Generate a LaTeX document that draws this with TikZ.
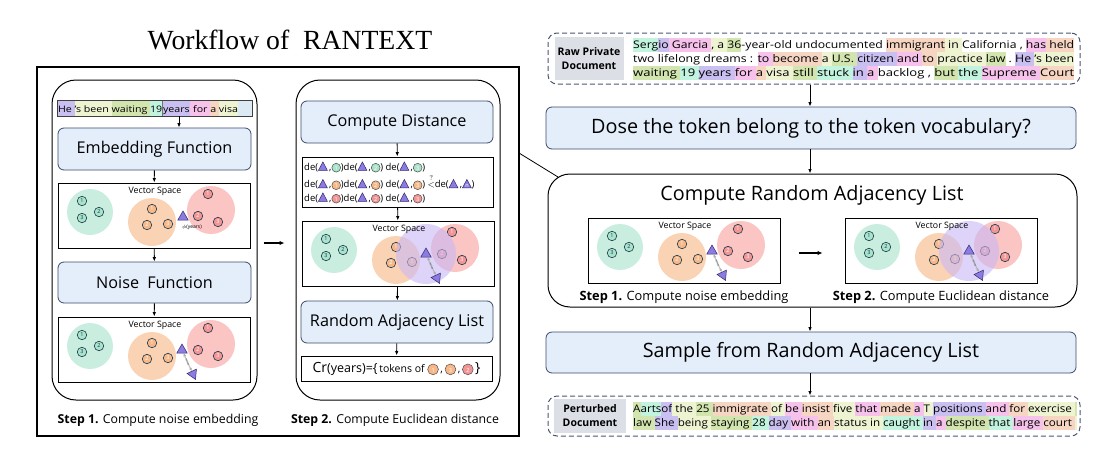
\documentclass[tikz,border=0pt]{standalone}
\usepackage{fontspec}
\setmainfont{Open Sans}
\newfontfamily\titlefont{Liberation Serif}
\usetikzlibrary{shapes.geometric,arrows.meta,calc}
\definecolor{hlpur}{HTML}{CABFF1}
\definecolor{hlmint}{HTML}{C2F3DF}
\definecolor{hlpink}{HTML}{F6C1EA}
\definecolor{hlpeach}{HTML}{F6D5C2}
\definecolor{hlyel}{HTML}{EEF4D2}
\definecolor{hlgrn}{HTML}{D3E5AE}
\definecolor{hlblue}{HTML}{DCEAF6}
\definecolor{boxF}{HTML}{E4EEFA}
\definecolor{boxD}{HTML}{3A4A6B}
\definecolor{labF}{HTML}{DCDFE6}
\definecolor{dashD}{HTML}{4A5670}
\definecolor{bgG}{HTML}{C9EEDF}
\definecolor{bgO}{HTML}{FAD3B5}
\definecolor{bgR}{HTML}{FBC5C4}
\definecolor{bgP}{HTML}{C8B8F5}
\definecolor{gS}{HTML}{A8E3CB}
\definecolor{oS}{HTML}{F6B889}
\definecolor{rS}{HTML}{F29595}
\definecolor{scD}{HTML}{1E3A4A}
\definecolor{triF}{HTML}{8C7BE0}
\definecolor{triD}{HTML}{33286E}
\def\hlstrut{\rule[-3.2pt]{0pt}{14pt}}
\newcommand\hl[2]{{\setlength\fboxsep{0pt}\colorbox{#1}{\hlstrut#2}}}
\newcommand\cn[3][4.4]{\mbox{\tikz[baseline=-2.7pt]\filldraw[fill=#2,draw=black!70,line width=0.5pt] (0pt,0pt) circle (#1pt);\hspace*{\dimexpr -#1pt*2 -0.5pt\relax}\makebox[\dimexpr #1pt*2 +0.5pt\relax]{\textcolor{white}{\fontsize{5.5}{5.5}\selectfont #3}}}}
\newcommand\tr{\tikz[baseline=0pt]\filldraw[fill=triF,draw=triD,line width=0.5pt] (0pt,0pt)--(9pt,0pt)--(4.5pt,8.5pt)--cycle;}
\newcommand\trn{\mbox{\tr\hspace*{-9pt}\makebox[9pt]{\raisebox{0.3pt}{\textcolor{white}{\fontsize{5.5}{5.5}\selectfont n}}}}}
\newcommand\de[1]{de(\tr\,,#1)}
\newcommand\VSbase[1]{%
  \node[vsrect] (#1) at (96,32.5) {};
  \fill[bgG] (32,29) circle (23pt);
  \fill[bgO] (94,39) circle (24pt);
  \fill[bgR] (153,27) circle (24pt);
  \node[sc, fill=gS, text=scD] (#1-g1) at (24,18) {1};
  \node[sc, fill=gS, text=scD] (#1-g2) at (41,29) {2};
  \node[sc, fill=gS, text=scD] (#1-g3) at (24,35) {3};
  \node[sc, fill=oS] (#1-o1) at (94,26) {1};
  \node[sc, fill=oS] (#1-o2) at (89,42) {2};
  \node[sc, fill=oS] (#1-o3) at (110,41) {3};
  \node[sc, fill=rS] (#1-r1) at (150,11) {1};
  \node[sc, fill=rS] (#1-r2) at (140,33) {2};
  \node[sc, fill=rS] (#1-r3) at (160,39) {3};
}
\newcommand\VSnoise[1]{%
  \node[tri] (#1-p1) at (124,33) {};
  \node[tri, shape border rotate=-35] (#1-p2) at (135,57) {};
  \draw[noisearr] (#1-p1) -- (#1-p2) node[midway, sloped, font=\fontsize{2.8}{3}\selectfont, text=black!70] (#1-nl) {noise};
}
\newcommand\VStitle[1]{\node[vstitle] (#1-t) at (97,8) {Vector Space};}
\tikzset{
  fbox/.style={draw=boxD, fill=boxF, rounded corners=6pt, line width=0.8pt, inner sep=0pt},
  rbox/.style={draw=black, rounded corners=24pt, line width=1pt, inner sep=0pt},
  vsrect/.style={draw=black, line width=0.9pt, minimum width=192pt, minimum height=65pt, inner sep=0pt},
  sc/.style={circle, draw=scD, line width=0.6pt, inner sep=0pt, minimum size=9.5pt, text=white, font=\fontsize{5.5}{5.5}\selectfont},
  tri/.style={regular polygon, regular polygon sides=3, minimum size=12pt, inner sep=0pt, fill=triF, draw=triD, line width=0.5pt},
  noisearr/.style={{Latex[length=3pt,width=3pt]}-{Latex[length=3pt,width=3pt]}, draw=gray!65, line width=1.2pt, dash pattern=on 0.8pt off 0.6pt},
  vstitle/.style={font=\fontsize{8.8}{9}\selectfont, inner sep=0pt},
  arr/.style={-{Latex[length=4.5pt,width=3.5pt]}, line width=0.9pt},
  harr/.style={-{Latex[length=5pt,width=4.5pt]}, line width=1.4pt},
  dbox/.style={draw=dashD, dash pattern=on 5pt off 3pt, line width=1pt, rounded corners=9pt, inner sep=0pt},
  labbox/.style={fill=labF, inner sep=0pt, font=\fontsize{10.5}{14}\selectfont\bfseries, align=center},
  row/.style={anchor=west, inner sep=0pt, font=\fontsize{10.5}{14}\selectfont},
  steplab/.style={inner sep=0pt, font=\fontsize{12.3}{14}\selectfont},
  steplabr/.style={inner sep=0pt, font=\fontsize{12.8}{14}\selectfont},
  bigtxt/.style={font=\fontsize{16.2}{19}\selectfont},
  hugetxt/.style={font=\fontsize{19.8}{22}\selectfont},
  detxt/.style={anchor=west, inner sep=0pt, font=\fontsize{9.5}{10}\selectfont},
}
\begin{document}
\begin{tikzpicture}[x=1pt,y=-1pt]
\useasboundingbox (0,0) rectangle (1108,450);
% ===== left panel =====
\node[font=\titlefont\fontsize{27.7}{32}\selectfont, inner sep=0pt] (title) at (290,40) {Workflow of\enspace RANTEXT};
\node[draw=black, line width=1.3pt, minimum width=482pt, minimum height=369pt, inner sep=0pt] (outer) at (278,251.5) {};
\node[rbox, minimum width=205pt, minimum height=320pt] (r1) at (154.5,240) {};
\node[rbox, minimum width=204pt, minimum height=320pt] (r2) at (398,240) {};
% strip
\node[fill=hlblue, minimum width=194pt, minimum height=15pt, inner sep=0pt] (strip) at (155,108.5) {};
\def\hlstrut{\rule[-3.6pt]{0pt}{15pt}}
\node[anchor=west, inner sep=0pt, font=\fontsize{9}{10}\selectfont] (striptxt) at (strip.west) {\resizebox{180pt}{\height}{\hl{hlpur}{He\ }\hl{hlyel}{'s been\ }\hl{hlgrn}{waiting\ }\hl{hlmint}{19}{\setlength\fboxsep{0pt}\setlength\fboxrule{0.6pt}\fcolorbox{black!55}{hlpur}{\hlstrut years}}\hl{hlpink}{\ for\ }\hl{hlpeach}{a\ }\hl{hlyel}{visa}}};
\draw[black!75, line width=0.7pt] (strip.north west) rectangle (strip.south east);
\def\hlstrut{\rule[-3.2pt]{0pt}{14pt}}
\coordinate (yrs) at (179,0);
\node[fbox, bigtxt, minimum width=193pt, minimum height=42pt] (emb) at (154.5,149) {Embedding Function};
\begin{scope}[shift={(58,183)}]
  \VSbase{vsa}
  \node[tri] (vsa-p) at (125,34) {};
  \node[font=\fontsize{5}{5}\selectfont, inner sep=0pt] (vsa-l) at (134,44) {$\phi$(years)};
  \VStitle{vsa}
\end{scope}
\node[fbox, bigtxt, minimum width=193pt, minimum height=41pt] (noise) at (154.5,282.5) {Noise\enspace Function};
\begin{scope}[shift={(58,317)}]
  \VSbase{vsb}
  \VSnoise{vsb}
  \VStitle{vsb}
\end{scope}
\draw[arr] (strip.south -| yrs) -- (emb.north -| yrs);
\draw[arr] (emb) -- (vsa);
\draw[arr] (vsa) -- (noise);
\draw[arr] (noise) -- (vsb);
\node[steplab] (step1) at (158,420) {\textbf{Step 1.} Compute noise embedding};
% step 2
\node[fbox, bigtxt, minimum width=192pt, minimum height=42pt] (cd) at (397,122) {Compute Distance};
\node[draw=black, line width=0.9pt, minimum width=191pt, minimum height=50pt, inner sep=0pt] (debox) at (397.5,182) {};
\node[detxt] (de1) at (304,167) {\de{\cn{gS}{1}}\de{\cn{gS}{2}} \de{\cn{gS}{3}}};
\node[detxt] (de2) at (304,182.5) {\de{\cn{oS}{1}}\de{\cn{oS}{2}} \de{\cn{oS}{3}} $\stackrel{?}{<}$de(\tr\,,\trn)};
\node[detxt] (de3) at (304,198) {\de{\cn{rS}{1}}\de{\cn{rS}{2}} \de{\cn{rS}{3}}};
\begin{scope}[shift={(302,221)}]
  \VSbase{vsc}
  \fill[bgP, fill opacity=0.6] (124,33) circle (30pt);
  \VSnoise{vsc}
  \VStitle{vsc}
\end{scope}
\node[fbox, bigtxt, minimum width=192pt, minimum height=42pt] (ral) at (397,322) {Random Adjacency List};
\node[draw=black, line width=0.9pt, minimum width=191pt, minimum height=25pt, inner sep=0pt] (cr) at (396.5,368.5) {{\fontsize{14}{14}\selectfont Cr}{\fontsize{12.5}{14}\selectfont(years)=\{}\,{\fontsize{10.5}{11}\selectfont tokens of \cn[5.4]{oS}{1}\,,\,\cn[5.4]{oS}{3}\,,\,\cn[5.4]{rS}{2}}\,{\fontsize{14}{14}\selectfont\}}};
\draw[arr] (cd) -- (debox);
\draw[arr] (debox) -- (vsc);
\draw[arr] (vsc) -- (ral);
\draw[arr] (ral) -- (cr);
\node[steplab] (step2) at (395,420) {\textbf{Step 2.} Compute Euclidean distance};
\draw[harr, shorten <=6pt, shorten >=11pt] (r1.east |- 0,243) -- (r2.west |- 0,243);
% ===== right panel =====
\coordinate (ax) at (810,0);
\node[dbox, minimum width=532pt, minimum height=51pt] (raw) at (814,58.5) {};
\node[labbox, minimum width=69pt, minimum height=43pt] (rawlab) at (589,58.5) {Raw Private\\Document};
\node[row] (raw1) at (633,45) {\resizebox{441pt}{\height}{\hl{hlmint}{Serg}\hl{hlpur}{io}\hl{hlpink}{\ Garcia\ }\hl{hlyel}{, a\ }\hl{hlgrn}{36}-year-old undocumented \hl{hlpeach}{immigrant}\hl{hlyel}{\ in\ }California , \hl{hlpink}{has}\hl{hlpeach}{\ held}}};
\node[row] (raw2) at (633,59) {\resizebox{441pt}{\height}{two lifelong dreams : \hl{hlpink}{to\ }\hl{hlpeach}{become\ }\hl{hlyel}{a\ }\hl{hlgrn}{U.S.\ }\hl{hlpur}{citizen\ }\hl{hlpink}{and\ }\hl{hlpeach}{to\ }\hl{hlyel}{practice\ }\hl{hlgrn}{law}\ .\ \hl{hlpur}{He\ }\hl{hlyel}{'s been}}};
\node[row] (raw3) at (633,73) {\resizebox{441pt}{\height}{\hl{hlgrn}{waiting\ }\hl{hlmint}{19\ }\hl{hlpur}{years\ }\hl{hlpink}{for\ }\hl{hlpeach}{a\ }\hl{hlyel}{visa\ }\hl{hlgrn}{still\ }\hl{hlmint}{stuck\ }\hl{hlpur}{in\ }\hl{hlpink}{a\ }backlog ,\ \hl{hlgrn}{but\ }\hl{hlmint}{the\ }\hl{hlpink}{Supreme\ }\hl{hlpeach}{Court}}};
\node[fbox, hugetxt, minimum width=530pt, minimum height=42pt] (q) at (811,128) {Dose the token belong to the token vocabulary?};
\node[rbox, rounded corners=22pt, minimum width=529pt, minimum height=133pt] (cral) at (812.5,240.5) {};
\node[hugetxt, inner sep=0pt] (cralt) at (812,195) {Compute Random Adjacency List};
\begin{scope}[shift={(588,218)}]
  \VSbase{vsd}
  \VSnoise{vsd}
  \VStitle{vsd}
\end{scope}
\begin{scope}[shift={(845,218)}]
  \VSbase{vse}
  \fill[bgP, fill opacity=0.6] (124,33) circle (30pt);
  \VSnoise{vse}
  \VStitle{vse}
\end{scope}
\node[steplabr] (step1r) at (684,297) {\textbf{Step 1.} Compute noise embedding};
\node[steplabr] (step2r) at (941,297) {\textbf{Step 2.} Compute Euclidean distance};
\draw[harr, shorten <=19pt, shorten >=22pt] (vsd.east |- 0,253) -- (vse.west |- 0,253);
\node[fbox, hugetxt, minimum width=530pt, minimum height=41pt] (samp) at (811,352.5) {Sample from Random Adjacency List};
\node[dbox, minimum width=532pt, minimum height=40pt] (pert) at (814,416) {};
\node[labbox, minimum width=72pt, minimum height=34pt] (pertlab) at (590,416) {Perturbed\\Document};
\node[row] (pert1) at (633,409) {\resizebox{444pt}{\height}{\hl{hlgrn}{A}\hl{hlmint}{arts}\hl{hlpur}{of}\hl{hlyel}{\ the\ }\hl{hlgrn}{25\ }\hl{hlpeach}{immigrate\ }\hl{hlyel}{of\ }\hl{hlpink}{be\ }\hl{hlpeach}{insist\ }\hl{hlyel}{five\ }\hl{hlpink}{that\ }\hl{hlpeach}{made\ }\hl{hlpink}{a\ }\hl{hlyel}{T\ }\hl{hlpur}{positions\ }\hl{hlpink}{and\ }\hl{hlpeach}{for\ }\hl{hlyel}{exercise\ }\hl{hlgrn}{\hspace{2pt}}}};
\node[row] (pert2) at (633,423) {\resizebox{444pt}{\height}{\hl{hlgrn}{law\ }\hl{hlpur}{She\ }\hl{hlyel}{being\ }\hl{hlgrn}{staying\ }\hl{hlmint}{28\ }\hl{hlpur}{day\ }\hl{hlpink}{with\ }\hl{hlpeach}{an\ }\hl{hlyel}{status in\ }\hl{hlmint}{caught\ }\hl{hlpur}{in\ }\hl{hlpink}{a\ }\hl{hlgrn}{despite\ }\hl{hlmint}{that\ }\hl{hlpink}{large\ }\hl{hlpeach}{court\ }\hl{hlyel}{\hspace{2pt}}}};
\draw[arr] (raw.south -| ax) -- (q.north -| ax);
\draw[arr] (q.south -| ax) -- (cral.north -| ax);
\draw[arr] (cral.south -| ax) -- (samp.north -| ax);
\draw[arr] (samp.south -| ax) -- (pert.north -| ax);
% zoom connector
\coordinate (zA) at (519,153);
\coordinate (zB) at (558,177);
\draw[line width=0.8pt] (zA) -- (zB);
\end{tikzpicture}
\end{document}
